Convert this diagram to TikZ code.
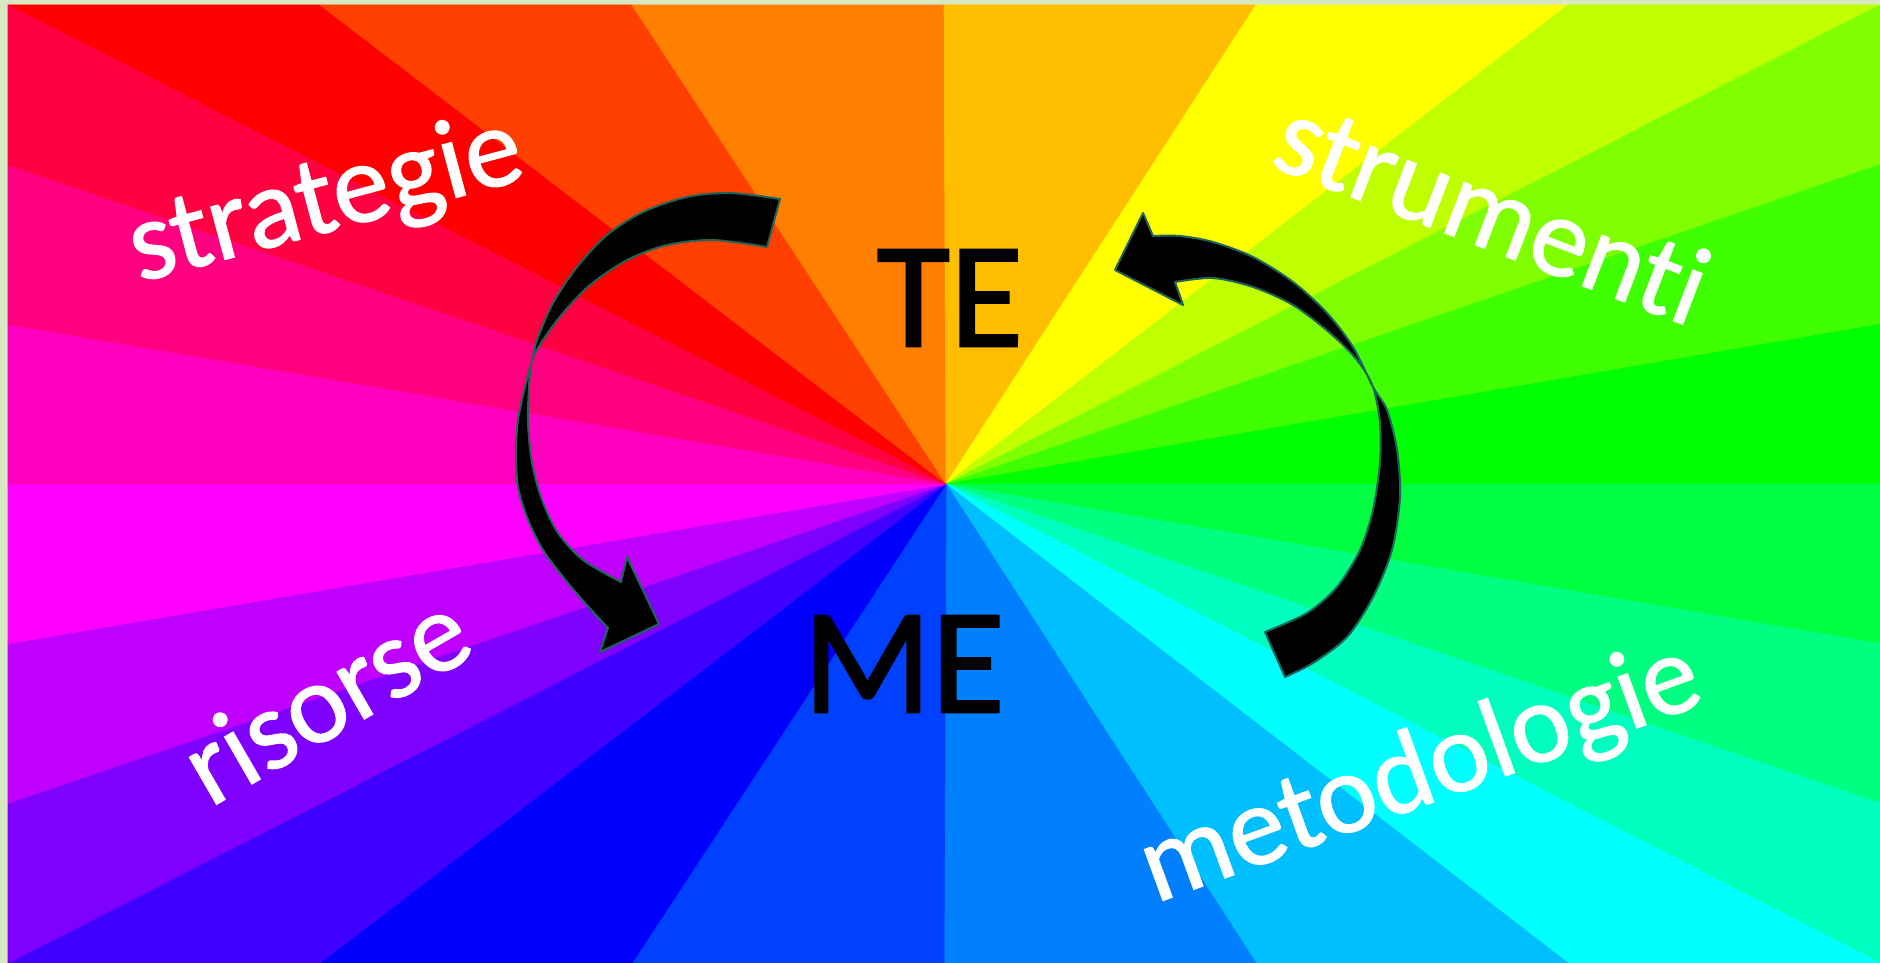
\documentclass[tikz,border=0pt]{standalone}
\usepackage{fontspec}
\setmainfont{Carlito}
\newfontfamily\labelfont[FakeBold=1,Ligatures=NoCommon]{Carlito}
\newfontfamily\pairfont[FakeBold=1.6]{Carlito}
\usetikzlibrary{calc}
\definecolor{framegreen}{RGB}{216,232,194}
\definecolor{arrowedge}{RGB}{30,100,88}

\begin{document}
\begin{tikzpicture}[x=1pt, y=-1pt,
    word/.style={text=white, inner sep=0pt, font=\labelfont\fontsize{114}{120}\selectfont},
    who/.style={text=black, inner sep=0pt, font=\pairfont\fontsize{150}{150}\selectfont},
    bendarrow/.style={fill=black, draw=arrowedge, line width=2pt, line join=round}
]
    \useasboundingbox (0,0) rectangle (1880,963);
    \fill[framegreen] (0,0) rectangle (1880,963);
    % colour wheel rays
    \coordinate (hub) at (946,484);
    \coordinate (tl) at (8,5);
    \coordinate (tr) at (1880,5);
    \coordinate (br) at (1880,963);
    \coordinate (bl) at (8,963);
    \foreach \from/\to [count=\e from 0] in {tl/tr,tr/br,br/bl,bl/tl}{
      \foreach \k in {0,...,5}{
        \pgfmathtruncatemacro\hue{15*(6*\e+\k)}
        \definecolor{rayfill}{Hsb}{\hue,1,1}
        \filldraw[rayfill, line width=0.6pt, line join=round] (hub) -- ($(\from)!{\k/6}!(\to)$) -- ($(\from)!{(\k+1)/6}!(\to)$) -- cycle;
      }
    }
    % arrow from TE down to ME
    \filldraw[bendarrow] plot[smooth] coordinates {(780,199) (730,193) (687,197) (643,212) (607,235) (577,267) (553,303) (537,340) (532,360) (525,387) (518,420) (516,453) (518,487) (528,520) (543,550) (563,577) (585,603) (608,628)}
      -- (600,652) -- (659,624) -- (627,557) -- (621,582)
      -- plot[smooth] coordinates {(621,582) (583,560) (558,533) (542,500) (532,463) (528,423) (529,387) (532,360) (543,340) (563,313) (590,285) (627,260) (667,245) (713,240) (767,247)}
      -- cycle;
    % arrow from ME up to TE
    \filldraw[bendarrow] plot[smooth] coordinates {(1285,677) (1313,663) (1347,637) (1373,597) (1392,550) (1400,497) (1397,450) (1387,410) (1373,387) (1353,347) (1327,313) (1293,282) (1253,257) (1213,242) (1180,236) (1153,236)}
      -- (1143,213) -- (1115,270) -- (1183,305) -- (1175,282)
      -- plot[smooth] coordinates {(1175,282) (1213,278) (1253,287) (1293,305) (1330,333) (1357,360) (1373,387) (1380,423) (1380,463) (1373,510) (1360,550) (1337,587) (1307,613) (1265,632)}
      -- cycle;
    % labels
    \node[word, rotate=15] (strat) at (326,202) {strategie};
    \node[word, rotate=-21] (strum) at (1493,210) {strumenti};
    \node[word, rotate=30] (ris) at (325,697) {risorse};
    \node[word, rotate=20] (metod) at (1421,775) {metodologie};
    \node[who] (te) at (950,298) {TE};
    \node[who] (me) at (904,664) {ME};
\end{tikzpicture}
\end{document}
